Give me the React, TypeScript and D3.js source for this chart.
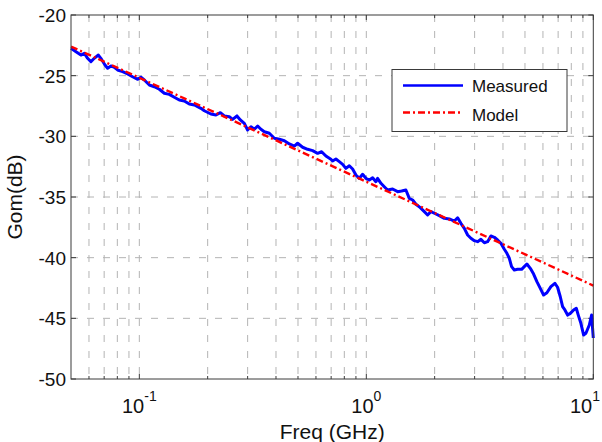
import React from "react";
import * as d3 from "d3";

// Measured curve: frequency (GHz) and Gom (dB)
const measFreq = [
  0.05, 0.0526, 0.0553, 0.0573, 0.0592, 0.0612, 0.0633, 0.066, 0.0677, 0.0706,
  0.0725, 0.075, 0.0776, 0.0802, 0.0844, 0.0888, 0.0934, 0.0984, 0.1016, 0.1052,
  0.1107, 0.1164, 0.1225, 0.1288, 0.1355, 0.1426, 0.15, 0.1578, 0.166, 0.1747,
  0.1868, 0.1933, 0.2067, 0.2175, 0.2275, 0.2368, 0.2491, 0.2576, 0.2692, 0.2786,
  0.2901, 0.2999, 0.3103, 0.3212, 0.3322, 0.3434, 0.3554, 0.3738, 0.3934, 0.4139,
  0.4354, 0.4581, 0.4819, 0.498, 0.524, 0.5513, 0.58, 0.6102, 0.6355, 0.6637,
  0.6983, 0.7104, 0.7345, 0.7604, 0.7865, 0.8129, 0.8415, 0.8702, 0.9, 0.9315,
  0.9632, 0.996, 1.031, 1.066, 1.102, 1.121, 1.16, 1.2, 1.241, 1.306,
  1.374, 1.431, 1.494, 1.547, 1.6, 1.654, 1.729, 1.801, 1.862, 1.926,
  1.993, 2.097, 2.206, 2.321, 2.442, 2.525, 2.61, 2.703, 2.795, 2.889,
  2.991, 3.093, 3.198, 3.311, 3.423, 3.539, 3.664, 3.788, 3.917, 4.055,
  4.163, 4.266, 4.365, 4.487, 4.64, 4.832, 4.966, 5.099, 5.278, 5.458,
  5.643, 5.842, 6.039, 6.245, 6.504, 6.773, 6.96, 7.154, 7.324, 7.497,
  7.705, 7.919, 8.188, 8.415, 8.587, 8.817, 9.062, 9.277, 9.603, 9.829, 10,
];
const measDb = [
  -22.74, -23.02, -23.3, -23.16, -23.57, -23.85, -23.57, -23.3, -23.57, -24.12,
  -24.39, -24.2, -24.31, -24.53, -24.67, -24.86, -25.09, -25.3, -25.13, -25.36,
  -25.77, -25.91, -26.12, -26.45, -26.54, -26.78, -27.01, -27.09, -27.34, -27.42,
  -27.69, -27.89, -28.16, -28.24, -28.05, -28.32, -28.38, -28.6, -28.32, -28.65,
  -28.93, -29.48, -29.21, -29.42, -29.15, -29.42, -29.62, -29.75, -30.16, -30.24,
  -30.36, -30.63, -30.8, -30.57, -30.9, -31.07, -31.18, -31.4, -31.27, -31.62,
  -31.89, -32.03, -31.87, -32.09, -32.31, -32.64, -32.42, -32.69, -33.19, -33.46,
  -33.13, -33.46, -33.6, -33.41, -33.74, -33.46, -33.87, -34.15, -34.42, -34.34,
  -34.56, -34.51, -34.42, -35.11, -35.25, -35.6, -35.88, -36.21, -36.48, -36.21,
  -36.34, -36.54, -36.76, -36.81, -36.98, -36.71, -37.17, -37.58, -38.13, -38.4,
  -38.6, -38.68, -38.49, -38.77, -38.68, -38.21, -38.32, -38.54, -38.82, -39.31,
  -39.64, -40.05, -40.74, -41.02, -40.96, -40.96, -40.74, -40.52, -40.88, -41.35,
  -41.98, -42.53, -43.08, -42.89, -42.39, -42.11, -42.44, -43.22, -44.04, -44.31,
  -44.73, -44.59, -44.31, -44.17, -44.73, -45.41, -46.37, -46.23, -45.55, -44.73, -46.62,
];

// Model: straight line in log-frequency
const modelFreq = [0.05, 10];
const modelDb = [-22.6, -42.3];

const yTicks = [-50, -45, -40, -35, -30, -25, -20];
const xMajorTicks = [0.1, 1, 10];
const xMajorExp = ["-1", "0", "1"];
const xMinorTicks = [
  0.06, 0.07, 0.08, 0.09, 0.2, 0.3, 0.4, 0.5, 0.6, 0.7, 0.8, 0.9,
  2, 3, 4, 5, 6, 7, 8, 9,
];
const seriesNames = ["Measured", "Model"];

const W = 602;
const H = 442;
const L = 71;
const R = 593.3;
const T = 15;
const B = 379;

export default function App() {
  const x = d3.scaleLog().domain([0.05, 10]).range([L, R]);
  const y = d3.scaleLinear().domain([-50, -20]).range([B, T]);

  const meas = measFreq.map((f, i) => [f, measDb[i]] as [number, number]);
  const model = modelFreq.map((f, i) => [f, modelDb[i]] as [number, number]);
  const line = d3
    .line<[number, number]>()
    .x((d) => x(d[0]))
    .y((d) => y(d[1]));

  const font = "'Liberation Sans', Arial, Helvetica, sans-serif";
  const gridColor = "#b4b4b4";
  const axisColor = "#3a3a3a";

  return (
    <svg
      width={W}
      height={H}
      style={{ position: "absolute", left: 0, top: 0, background: "#fff" }}
      fontFamily={font}
    >
      <rect x={0} y={0} width={W} height={H} fill="#fff" />
      <rect x={L} y={T} width={R - L} height={B - T} fill="#fff" />
      {/* grid */}
      <g stroke={gridColor} strokeWidth={1} strokeDasharray="7,9">
        {[...xMinorTicks, 0.1, 1].map((t) => (
          <line key={"gx" + t} x1={x(t)} x2={x(t)} y1={T} y2={B} />
        ))}
        {yTicks
          .filter((t) => t > -50 && t < -20)
          .map((t) => (
            <line key={"gy" + t} x1={L} x2={R} y1={y(t)} y2={y(t)} />
          ))}
      </g>
      {/* ticks */}
      <g stroke={axisColor} strokeWidth={1}>
        {yTicks.map((t) => (
          <g key={"ty" + t}>
            <line x1={L} x2={L + 5} y1={y(t)} y2={y(t)} />
            <line x1={R} x2={R - 5} y1={y(t)} y2={y(t)} />
          </g>
        ))}
        {xMajorTicks.map((t) => (
          <g key={"tx" + t}>
            <line x1={x(t)} x2={x(t)} y1={B} y2={B - 5} />
            <line x1={x(t)} x2={x(t)} y1={T} y2={T + 5} />
          </g>
        ))}
        {xMinorTicks.map((t) => (
          <g key={"tm" + t}>
            <line x1={x(t)} x2={x(t)} y1={B} y2={B - 3} />
            <line x1={x(t)} x2={x(t)} y1={T} y2={T + 3} />
          </g>
        ))}
      </g>
      {/* data */}
      <path
        d={line(meas) || ""}
        fill="none"
        stroke="#0000ff"
        strokeWidth={3}
        strokeLinejoin="round"
      />
      <path
        d={line(model) || ""}
        fill="none"
        stroke="#ff0000"
        strokeWidth={2.4}
        strokeDasharray="7,3,2,3"
      />
      {/* box */}
      <rect
        x={L}
        y={T}
        width={R - L}
        height={B - T}
        fill="none"
        stroke={axisColor}
        strokeWidth={1}
      />
      {/* y tick labels */}
      <g fontSize={19} fill="#111" textAnchor="end">
        {yTicks.map((t) => (
          <text key={"yl" + t} x={L - 5} y={y(t) + 7}>
            {t}
          </text>
        ))}
      </g>
      {/* x tick labels */}
      <g fill="#111">
        {xMajorTicks.map((t, i) => {
          const last = i === xMajorTicks.length - 1;
          return (
            <text
              key={"xl" + t}
              x={last ? W - 2 : x(t)}
              y={413}
              fontSize={20}
              textAnchor={last ? "end" : "middle"}
            >
              <tspan>10</tspan>
              <tspan fontSize={14} dy={-12}>
                {xMajorExp[i]}
              </tspan>
            </text>
          );
        })}
      </g>
      {/* axis labels */}
      <text
        x={(L + R) / 2}
        y={439}
        fontSize={21}
        textAnchor="middle"
        fill="#111"
      >
        Freq (GHz)
      </text>
      <text
        transform={`translate(22,197) rotate(-90)`}
        fontSize={21}
        textAnchor="middle"
        fill="#111"
      >
        Gom(dB)
      </text>
      {/* legend */}
      <g>
        <rect
          x={392}
          y={69.5}
          width={175}
          height={62}
          fill="#fff"
          stroke={axisColor}
          strokeWidth={1}
        />
        <line x1={403} x2={463} y1={85.5} y2={85.5} stroke="#0000ff" strokeWidth={2.6} />
        <line
          x1={403}
          x2={463}
          y1={112.5}
          y2={112.5}
          stroke="#ff0000"
          strokeWidth={2.4}
          strokeDasharray="7,3,2,3"
        />
        <text x={472} y={92} fontSize={17} fill="#111">
          {seriesNames[0]}
        </text>
        <text x={472} y={121} fontSize={17} fill="#111">
          {seriesNames[1]}
        </text>
      </g>
    </svg>
  );
}
